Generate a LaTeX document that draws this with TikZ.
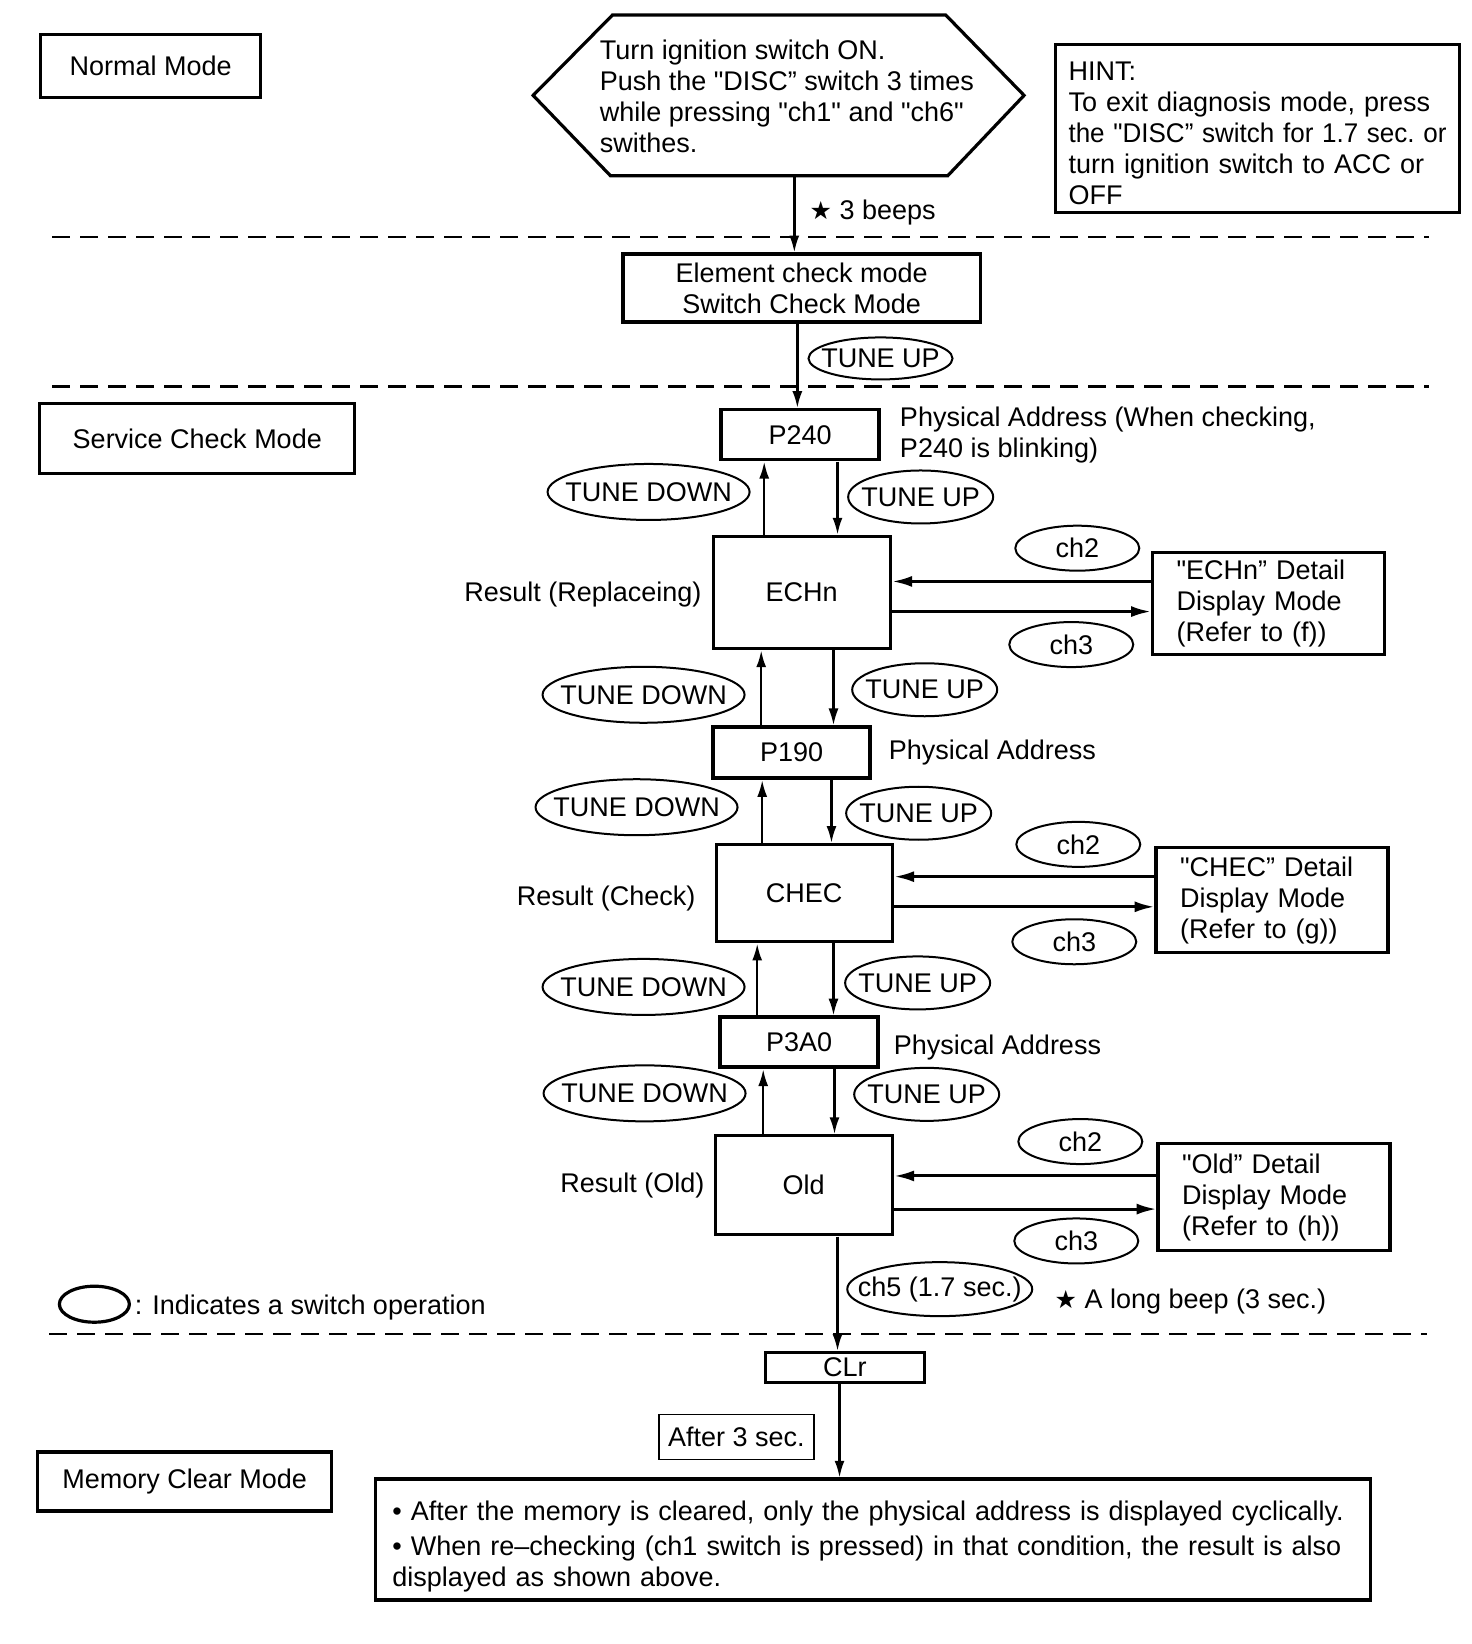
\documentclass[tikz,border=0pt]{standalone}
\usepackage{fontspec}
\usepackage{graphicx}
\setmainfont{Liberation Sans}[Ligatures=TeXOff]
\newfontfamily\starfont{DejaVu Sans}
\usetikzlibrary{arrows.meta,shapes.geometric}
\newcommand{\spread}[1]{\makebox[189pt][s]{#1}}
\newcommand{\fitline}[1]{\resizebox{189pt}{\height}{#1}}
\newcommand{\sw}[1]{\makebox[0pt]{#1}}
\newcommand{\blackstar}{{\starfont\fontsize{12.5}{12.5}\selectfont ★}}
\begin{document}
\begin{tikzpicture}[x=0.5pt,y=-0.5pt,
	every node/.style={font=\fontsize{13.5}{15.5}\selectfont, inner sep=0pt},
	modebox/.style={draw, line width=1.7pt, align=center},
	detail/.style={modebox, align=left, text width=92pt, inner xsep=12pt},
	sw/.style={draw, ellipse, line width=1pt},
	tdown/.style={sw, minimum width=101pt, minimum height=28pt},
	tup/.style={sw, minimum width=72.5pt, minimum height=26.5pt},
	chsw/.style={sw, minimum width=62pt, minimum height=22.5pt},
	arr/.style={line width=1.2pt, -{Latex[length=8.5pt,width=5pt]}},
	harr/.style={line width=1.5pt, -{Latex[length=10pt,width=5.5pt]}},
	sepline/.style={line width=1.1pt, dash pattern=on 9pt off 5pt}]
	\useasboundingbox (0,0) rectangle (1472,1644);
	\begin{scope}[scale=1.004]
	% normal mode
	\node[modebox, minimum width=110pt, minimum height=31.5pt] (normal) at (150,65.5) {Normal Mode};
	\draw[line width=1.6pt] (531,95) -- (610,15) -- (942,15) -- (1020,95) -- (944,175) -- (608,175) -- cycle;
	\node[align=left, anchor=west] (start) at (597,96) {Turn ignition switch ON.\\Push the "DISC” switch 3 times\\while pressing "ch1" and "ch6"\\swithes.};
	\coordinate (hexbot) at (791,175);
	\node[modebox, line width=1.3pt, align=left, text width=189pt, inner xsep=6.5pt, minimum height=84pt] (hint) at (1252.5,128)
		{\rule{0pt}{14pt}HINT:\\\spread{To exit diagnosis mode, press}\\\fitline{the "DISC” switch for 1.7 sec.\ or}\\\spread{turn ignition switch to ACC or}\\OFF};
	\node[anchor=west] (beeps) at (806,212) {\blackstar\ 3 beeps};
	\draw[sepline] (52,236) -- (1423,236);
	\node[modebox, minimum width=178.5pt, minimum height=34pt] (elem) at (798.5,287) {Element check mode\\Switch Check Mode};
	\draw[arr] (hexbot) -- (hexbot |- elem.north);
	\node[tup, minimum width=72pt, minimum height=21pt] (tu0) at (877,357) {\sw{TUNE UP}};
	\draw[sepline] (52,385) -- (1423,385);
	% service check mode
	\node[modebox, minimum width=157.5pt, minimum height=35pt] (service) at (196.5,437) {Service Check Mode};
	\node[modebox, minimum width=79pt, minimum height=25pt] (p240) at (797,433) {P240};
	\draw[arr] ([xshift=-2.25pt]elem.south) -- ([xshift=-2.25pt]elem.south |- p240.north);
	\node[anchor=west, align=left] (p240txt) at (896,433) {Physical Address (When checking,\\P240 is blinking)};
	\node[modebox, minimum width=88.5pt, minimum height=56pt] (echn) at (798.5,590) {ECHn};
	\node[anchor=east] (echntxt) at (699,592) {Result (Replaceing)};
	\node[tdown] (td1) at (646,490) {\sw{TUNE DOWN}};
	\node[tup] (tu1) at (917,495) {\sw{TUNE UP}};
	\draw[arr] ([xshift=-18.75pt]echn.north) -- ([xshift=-18.75pt]echn.north |- p240.south);
	\draw[arr] ([xshift=18.5pt]p240.south) -- ([xshift=18.5pt]p240.south |- echn.north);
	\node[detail, minimum height=51pt] (dechn) at (1263.5,601) {"ECHn” Detail\\Display Mode\\(Refer to (f))};
	\node[chsw] (ch2a) at (1073,546) {\sw{ch2}};
	\node[chsw] (ch3a) at (1067,642) {\sw{ch3}};
	\draw[harr] ([yshift=5.5pt]echn.east -| dechn.west) -- ([yshift=5.5pt]echn.east);
	\draw[harr] ([yshift=-9.5pt]echn.east) -- ([yshift=-9.5pt]echn.east -| dechn.west);
	\node[modebox, minimum width=78.5pt, minimum height=25.5pt] (p190) at (788.5,749.5) {P190};
	\node[anchor=west] (p190txt) at (885,750) {Physical Address};
	\node[tdown] (td2) at (641,692) {\sw{TUNE DOWN}};
	\node[tup] (tu2) at (921,687) {\sw{TUNE UP}};
	\draw[arr] ([xshift=-15.25pt]p190.north) -- ([xshift=-15.25pt]p190.north |- echn.south);
	\draw[arr] ([xshift=15.75pt]echn.south) -- ([xshift=15.75pt]echn.south |- p190.north);
	\node[modebox, minimum width=88pt, minimum height=48.5pt] (chec) at (801,889.5) {CHEC};
	\node[anchor=east] (chectxt) at (693,895) {Result (Check)};
	\node[tdown] (td3) at (634,804) {\sw{TUNE DOWN}};
	\node[tup] (tu3) at (915,810) {\sw{TUNE UP}};
	\draw[arr] ([xshift=-21pt]chec.north) -- ([xshift=-21pt]chec.north |- p190.south);
	\draw[arr] ([xshift=19.75pt]p190.south) -- ([xshift=19.75pt]p190.south |- chec.north);
	\node[detail, minimum height=52.5pt] (dchec) at (1267,896.5) {"CHEC” Detail\\Display Mode\\(Refer to (g))};
	\node[chsw] (ch2b) at (1074,841) {\sw{ch2}};
	\node[chsw] (ch3b) at (1070,938) {\sw{ch3}};
	\draw[harr] ([yshift=8.25pt]chec.east -| dchec.west) -- ([yshift=8.25pt]chec.east);
	\draw[harr] ([yshift=-6.75pt]chec.east) -- ([yshift=-6.75pt]chec.east -| dchec.west);
	\node[modebox, minimum width=79pt, minimum height=25pt] (p3a0) at (796,1038) {P3A0};
	\node[anchor=west] (p3a0txt) at (890,1043) {Physical Address};
	\node[tdown] (td4) at (641,983) {\sw{TUNE DOWN}};
	\node[tup] (tu4) at (914,979) {\sw{TUNE UP}};
	\draw[arr] ([xshift=-21pt]p3a0.north) -- ([xshift=-21pt]p3a0.north |- chec.south);
	\draw[arr] ([xshift=14.5pt]chec.south) -- ([xshift=14.5pt]chec.south |- p3a0.north);
	\node[modebox, minimum width=88.5pt, minimum height=49.5pt] (old) at (800.5,1180.5) {Old};
	\node[anchor=east] (oldtxt) at (702,1181) {Result (Old)};
	\node[tdown] (td5) at (642,1089) {\sw{TUNE DOWN}};
	\node[tup] (tu5) at (923,1090) {\sw{TUNE UP}};
	\draw[arr] ([xshift=-20.25pt]old.north) -- ([xshift=-20.25pt]old.north |- p3a0.south);
	\draw[arr] ([xshift=17.5pt]p3a0.south) -- ([xshift=17.5pt]p3a0.south |- old.north);
	\node[detail, minimum height=53.5pt] (dold) at (1269,1192.5) {"Old” Detail\\Display Mode\\(Refer to (h))};
	\node[chsw] (ch2c) at (1076,1137) {\sw{ch2}};
	\node[chsw] (ch3c) at (1072,1236) {\sw{ch3}};
	\draw[harr] ([yshift=4.75pt]old.east -| dold.west) -- ([yshift=4.75pt]old.east);
	\draw[harr] ([yshift=-11.75pt]old.east) -- ([yshift=-11.75pt]old.east -| dold.west);
	\node[sw, minimum width=92.5pt, minimum height=27pt] (ch5) at (936,1284) {\sw{ch5 (1.7 sec.)}};
	\node[anchor=west] (longbeep) at (1050,1296) {\blackstar\ A long beep (3 sec.)};
	\node[sw, line width=1.6pt, minimum width=35pt, minimum height=18pt] (legend) at (94,1299) {};
	\node[anchor=west] (legtxt) at (134,1302) {: Indicates a switch operation};
	\draw[sepline] (49,1329) -- (1421,1329);
	% memory clear mode
	\node[modebox, minimum width=79.5pt, minimum height=15pt] (clr) at (841.5,1362) {CLr};
	\draw[arr] ([xshift=16.75pt]old.south) -- ([xshift=16.75pt]old.south |- clr.north);
	\node[draw, line width=0.7pt, minimum width=77.5pt, minimum height=22.5pt] (after) at (733.5,1431.5) {After 3 sec.};
	\node[modebox, minimum width=147pt, minimum height=29.5pt] (memmode) at (184,1475.5) {Memory Clear Mode};
	\node[modebox, align=left, text width=480.5pt, inner xsep=8.5pt, minimum height=60.5pt] (memo) at (869.5,1533.5)
		{\rule{0pt}{17pt}• After the memory is cleared, only the physical address is displayed cyclically.\\[2pt]• When re–checking (ch1 switch is pressed) in that condition, the result is also\\displayed as shown above.};
	\draw[arr] ([xshift=-2.75pt]clr.south) -- ([xshift=-2.75pt]clr.south |- memo.north);
	\end{scope}
\end{tikzpicture}
\end{document}
